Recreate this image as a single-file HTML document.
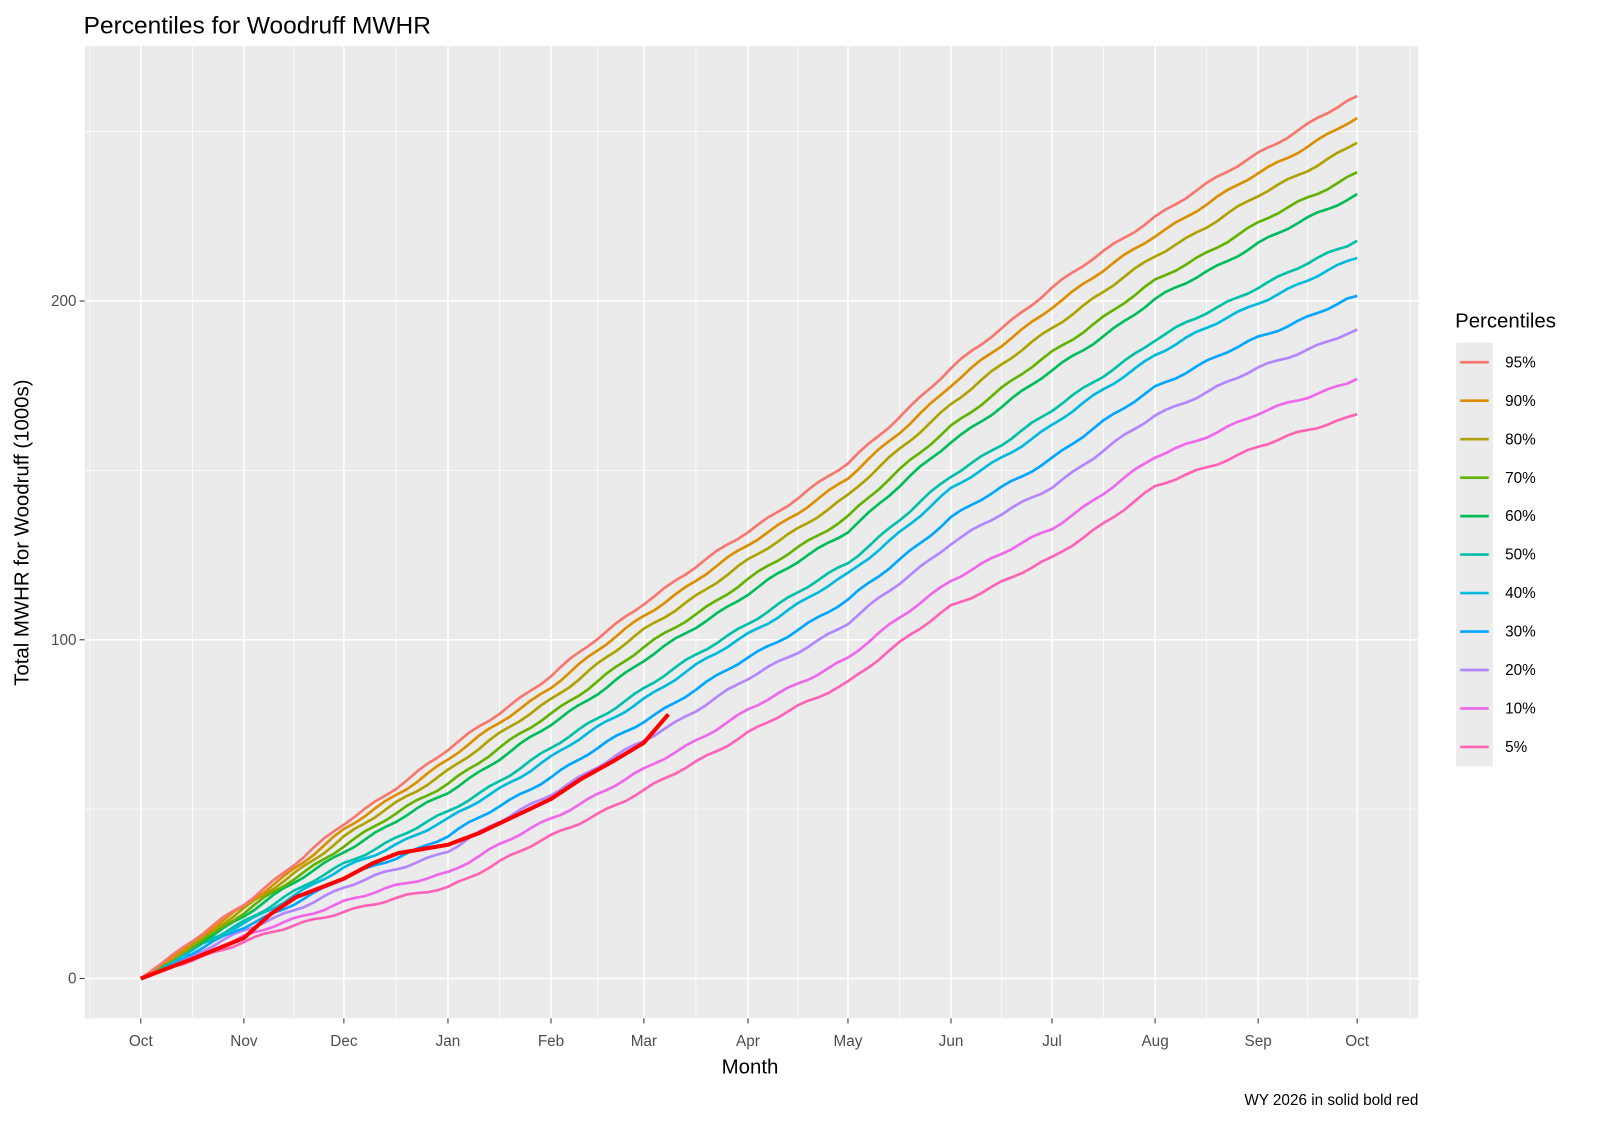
<!DOCTYPE html>
<html><head><meta charset="utf-8"><style>
body{margin:0;background:#fff;}
svg text{font-family:"Liberation Sans",Arial,sans-serif;}
</style></head><body>
<svg id="s" width="1600" height="1120" viewBox="0 0 1568 1097.6" preserveAspectRatio="none" xmlns="http://www.w3.org/2000/svg">
<rect width="1568" height="1100" fill="#fff"/>
<text x="82" y="33" font-size="24" fill="#000">Percentiles for Woodruff MWHR</text>
<rect x="83" y="45" width="1307" height="953" fill="#EBEBEB"/>
<g id="grid"></g>
<g id="lines"></g>
<g id="ticks"></g>
<text x="735" y="1052" font-size="20" text-anchor="middle" fill="#000">Month</text>
<text transform="translate(28,522) rotate(-90)" font-size="20" text-anchor="middle" fill="#000">Total MWHR for Woodruff  (1000s)</text>
<text x="1390" y="1083" font-size="15" text-anchor="end" fill="#000">WY 2026 in solid  bold red</text>
<text x="1426" y="321" font-size="20" fill="#000">Percentiles</text>
<rect x="1427" y="336" width="36" height="415" fill="#EBEBEB"/>
<g id="leg"></g>
</svg>
<script>
const NS="http://www.w3.org/2000/svg";
function el(p,t,a,txt){const e=document.createElementNS(NS,t);for(const k in a)e.setAttribute(k,a[k]);if(txt!==undefined)e.textContent=txt;p.appendChild(e);return e;}
const mx=[138,239,337,439,540,631,733,831,932,1031,1132,1233,1330];
const mn=["Oct","Nov","Dec","Jan","Feb","Mar","Apr","May","Jun","Jul","Aug","Sep","Oct"];
const Y=v=>959-v*3.32;
const grid=document.getElementById("grid"),ticks=document.getElementById("ticks");
[50,150,250].forEach(v=>el(grid,"line",{x1:83,x2:1390,y1:Y(v),y2:Y(v),stroke:"#fff","stroke-width":0.7}));
let minx=[88];for(let i=0;i<12;i++)minx.push((mx[i]+mx[i+1])/2);minx.push(1382);
minx.forEach(x=>el(grid,"line",{x1:x,x2:x,y1:45,y2:998,stroke:"#fff","stroke-width":0.7}));
[0,100,200].forEach(v=>{el(grid,"line",{x1:83,x2:1390,y1:Y(v),y2:Y(v),stroke:"#fff","stroke-width":1.5});
 el(ticks,"line",{x1:78,x2:83,y1:Y(v),y2:Y(v),stroke:"#333","stroke-width":1});
 el(ticks,"text",{x:75,y:Y(v)+5,"font-size":15,"text-anchor":"end",fill:"#4D4D4D"},v);});
mx.forEach((x,i)=>{el(grid,"line",{x1:x,x2:x,y1:45,y2:998,stroke:"#fff","stroke-width":1.5});
 el(ticks,"line",{x1:x,x2:x,y1:998,y2:1003,stroke:"#333","stroke-width":1});
 el(ticks,"text",{x:x,y:1025,"font-size":15,"text-anchor":"middle",fill:"#4D4D4D"},mn[i]);});
const hi=[0,22,45.5,67.5,89.5,111,132,152,180,204,225,243.7,260.5];
const lo=[0,11,20,27,42,55.4,72.6,87.7,110,124,145,157,166.6];
const P=[["95%","#F8766D",260.5],["90%","#DB8E00",254],["80%","#AEA200",246.7],["70%","#64B200",238],["60%","#00BD5C",231.6],["50%","#00C1A7",217.8],["40%","#00BADE",212.7],["30%","#00A6FF",201.5],["20%","#B385FF",191.6],["10%","#EF67EB",177],[" 5%","#FF63B6",166.6]];
const lines=document.getElementById("lines"),leg=document.getElementById("leg");
P.slice().reverse().forEach((p,j)=>{
 const t=(p[2]-166.6)/93.9;const a=hi.map((h,i)=>lo[i]+(h-lo[i])*t);
 let pts=[];
 for(let i=0;i<12;i++){for(let k=0;k<10;k++){const f=k/10;const x=mx[i]+(mx[i+1]-mx[i])*f;
  let v=a[i]+(a[i+1]-a[i])*f;if(i>0||k>2)v+=0.35*Math.sin(x*0.13+j*1.7)+0.25*Math.sin(x*0.051+j);
  pts.push(x.toFixed(1)+","+Y(v).toFixed(1));}}
 pts.push(mx[12]+","+Y(a[12]).toFixed(1));
 el(lines,"polyline",{points:pts.join(" "),fill:"none",stroke:p[1],"stroke-width":2.6});
});
P.forEach((p,i)=>{const y=355+i*37.7;
 el(leg,"line",{x1:1431,x2:1459,y1:y,y2:y,stroke:p[1],"stroke-width":2.6});
 el(leg,"text",{x:1475,y:y+5,"font-size":15,fill:"#000","xml:space":"preserve"},p[0]);});
const red=[[138,0],[190,6],[239,12],[265,19],[290,24],[337,29.5],[365,34],[390,37],[439,39.5],[470,43],[540,53],[570,59],[600,64],[631,69.6],[655,78]];
el(lines,"polyline",{points:red.map(q=>q[0]+","+Y(q[1]).toFixed(1)).join(" "),fill:"none",stroke:"#FF0000","stroke-width":4});
</script>
</body></html>
